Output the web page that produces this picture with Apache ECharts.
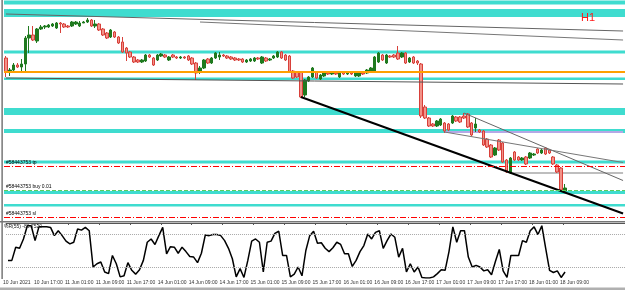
<!DOCTYPE html>
<html>
<head>
<meta charset="utf-8">
<script src="https://cdn.jsdelivr.net/npm/echarts@6/dist/echarts.min.js"></script>
<style>
  html, body { margin: 0; padding: 0; background: #fff; }
  #chart { width: 625px; height: 290px; }
</style>
</head>
<body>
<div id="chart"></div>
<script>
// time axis labels, one every 8 H1 bars
const tickLabels = ['10 Jun 2021', '10 Jun 17:00', '11 Jun 01:00', '11 Jun 09:00', '11 Jun 17:00',
  '14 Jun 01:00', '14 Jun 09:00', '14 Jun 17:00', '15 Jun 01:00', '15 Jun 09:00', '15 Jun 17:00',
  '16 Jun 01:00', '16 Jun 09:00', '16 Jun 17:00', '17 Jun 01:00', '17 Jun 09:00', '17 Jun 17:00',
  '18 Jun 01:00', '18 Jun 09:00'];

const opens = [1.2154,1.2126,1.2130,1.2140,1.2136,1.2142,1.2194,1.2200,1.2188,1.2212,
  1.2216,1.2216,1.2218,1.2214,1.2224,1.2222,1.2218,1.2218,1.2222,1.2218,
  1.2224,1.2226,1.2230,1.2218,1.2222,1.2212,1.2204,1.2196,1.2206,1.2196,
  1.2186,1.2174,1.2166,1.2156,1.2150,1.2146,1.2148,1.2160,1.2154,1.2150,
  1.2158,1.2160,1.2150,1.2160,1.2156,1.2154,1.2156,1.2158,1.2154,1.2144,
  1.2126,1.2134,1.2152,1.2144,1.2154,1.2156,1.2160,1.2158,1.2156,1.2154,
  1.2152,1.2152,1.2146,1.2148,1.2148,1.2154,1.2144,1.2154,1.2150,1.2154,
  1.2156,1.2166,1.2160,1.2158,1.2128,1.2126,1.2126,1.2080,1.2108,1.2116,
  1.2126,1.2112,1.2118,1.2124,1.2122,1.2124,1.2116,1.2126,1.2122,1.2124,
  1.2118,1.2118,1.2124,1.2124,1.2126,1.2126,1.2146,1.2160,1.2144,1.2158,
  1.2160,1.2164,1.2156,1.2164,1.2146,1.2156,1.2148,1.2142,1.2056,1.2034,
  1.2022,1.2018,1.2020,1.2024,1.2022,1.2024,1.2036,1.2036,1.2038,1.2042,
  1.2024,1.2014,1.2010,1.2008,1.1992,1.1980,1.1960,1.1990,1.1984,1.1950,
  1.1924,1.1966,1.1956,1.1950,1.1956,1.1954,1.1960,1.1972,1.1964,1.1974,
  1.1970,1.1956,1.1940,1.1934,1.1888];
const closes = [1.2126,1.2130,1.2140,1.2136,1.2142,1.2194,1.2200,1.2190,1.2212,1.2216,
  1.2218,1.2220,1.2222,1.2224,1.2222,1.2216,1.2216,1.2226,1.2226,1.2224,
  1.2226,1.2230,1.2218,1.2222,1.2210,1.2200,1.2194,1.2210,1.2196,1.2184,
  1.2166,1.2164,1.2156,1.2146,1.2146,1.2150,1.2160,1.2156,1.2140,1.2160,
  1.2162,1.2156,1.2156,1.2156,1.2154,1.2156,1.2154,1.2150,1.2142,1.2124,
  1.2134,1.2150,1.2144,1.2154,1.2164,1.2160,1.2158,1.2154,1.2152,1.2150,
  1.2150,1.2146,1.2150,1.2152,1.2154,1.2152,1.2156,1.2148,1.2152,1.2158,
  1.2166,1.2154,1.2150,1.2126,1.2114,1.2116,1.2076,1.2110,1.2116,1.2134,
  1.2114,1.2120,1.2124,1.2122,1.2124,1.2122,1.2126,1.2122,1.2124,1.2122,
  1.2124,1.2124,1.2122,1.2130,1.2134,1.2156,1.2164,1.2150,1.2160,1.2156,
  1.2156,1.2152,1.2164,1.2144,1.2154,1.2144,1.2144,1.2038,1.2034,1.2018,
  1.2018,1.2028,1.2032,1.2008,1.2010,1.2038,1.2028,1.2026,1.2034,1.2016,
  1.2000,1.2022,1.2006,1.1980,1.1976,1.1956,1.1974,1.1970,1.1946,1.1926,
  1.1954,1.1950,1.1950,1.1954,1.1942,1.1964,1.1962,1.1964,1.1970,1.1962,
  1.1964,1.1942,1.1926,1.1890,1.1894];
const lows = [1.2116,1.2118,1.2126,1.2134,1.2126,1.2126,1.2164,1.2188,1.2184,1.2210,
  1.2212,1.2214,1.2216,1.2212,1.2204,1.2214,1.2214,1.2216,1.2220,1.2216,
  1.2224,1.2224,1.2216,1.2214,1.2208,1.2198,1.2192,1.2194,1.2194,1.2182,
  1.2164,1.2148,1.2154,1.2144,1.2144,1.2144,1.2146,1.2154,1.2138,1.2148,
  1.2156,1.2154,1.2148,1.2154,1.2152,1.2152,1.2152,1.2148,1.2140,1.2110,
  1.2122,1.2132,1.2142,1.2142,1.2152,1.2150,1.2156,1.2152,1.2150,1.2148,
  1.2148,1.2144,1.2144,1.2146,1.2146,1.2150,1.2142,1.2146,1.2148,1.2152,
  1.2154,1.2152,1.2148,1.2124,1.2112,1.2114,1.2074,1.2076,1.2106,1.2114,
  1.2112,1.2110,1.2116,1.2120,1.2120,1.2120,1.2114,1.2120,1.2120,1.2120,
  1.2116,1.2116,1.2120,1.2122,1.2124,1.2124,1.2144,1.2148,1.2142,1.2154,
  1.2154,1.2150,1.2154,1.2142,1.2144,1.2142,1.2140,1.2034,1.2032,1.2016,
  1.2016,1.2016,1.2018,1.2004,1.2008,1.2022,1.2026,1.2024,1.2032,1.2014,
  1.1998,1.2006,1.2004,1.1978,1.1974,1.1954,1.1958,1.1968,1.1944,1.1924,
  1.1922,1.1948,1.1948,1.1948,1.1940,1.1952,1.1958,1.1962,1.1962,1.1960,
  1.1962,1.1940,1.1924,1.1888,1.1886];
const highs = [1.2158,1.2134,1.2144,1.2144,1.2152,1.2198,1.2218,1.2218,1.2214,1.2220,
  1.2220,1.2222,1.2224,1.2226,1.2226,1.2224,1.2220,1.2228,1.2228,1.2228,
  1.2228,1.2234,1.2232,1.2230,1.2224,1.2214,1.2206,1.2212,1.2208,1.2198,
  1.2196,1.2176,1.2168,1.2158,1.2152,1.2152,1.2162,1.2162,1.2156,1.2162,
  1.2164,1.2162,1.2158,1.2162,1.2158,1.2158,1.2158,1.2160,1.2156,1.2146,
  1.2138,1.2152,1.2154,1.2156,1.2166,1.2166,1.2162,1.2160,1.2158,1.2156,
  1.2154,1.2154,1.2152,1.2154,1.2156,1.2156,1.2158,1.2156,1.2154,1.2160,
  1.2168,1.2168,1.2162,1.2160,1.2130,1.2128,1.2128,1.2112,1.2118,1.2136,
  1.2128,1.2122,1.2126,1.2126,1.2126,1.2126,1.2128,1.2128,1.2126,1.2126,
  1.2126,1.2126,1.2126,1.2132,1.2136,1.2158,1.2166,1.2162,1.2162,1.2160,
  1.2162,1.2178,1.2166,1.2166,1.2156,1.2158,1.2150,1.2144,1.2060,1.2036,
  1.2024,1.2030,1.2034,1.2026,1.2024,1.2040,1.2038,1.2038,1.2044,1.2044,
  1.2026,1.2034,1.2012,1.2010,1.1994,1.1982,1.1976,1.1992,1.1986,1.1952,
  1.1956,1.1968,1.1958,1.1956,1.1958,1.1966,1.1964,1.1974,1.1972,1.1976,
  1.1972,1.1958,1.1942,1.1936,1.1902];

// Williams %R
const willR = [-68,-68,-44,-46,-29,-5,-5,-32,-7,-7,
  -7,-8,-23,-14,-23,-33,-38,-35,-11,-13,
  -8,-14,-80,-74,-71,-89,-92,-59,-74,-98,
  -96,-72,-86,-93,-85,-68,-35,-29,-39,-23,
  -8,-56,-43,-44,-55,-44,-52,-61,-62,-72,
  -55,-22,-23,-21,-21,-23,-32,-46,-65,-98,
  -83,-99,-68,-33,-29,-35,-89,-35,-33,-19,
  -15,-59,-59,-98,-93,-80,-96,-50,-23,-15,
  -37,-36,-46,-52,-45,-35,-39,-56,-56,-79,
  -68,-52,-41,-20,-29,-17,-14,-46,-32,-20,
  -26,-62,-46,-89,-74,-89,-80,-99,-100,-100,
  -98,-92,-85,-86,-52,-7,-35,-14,-14,-62,
  -80,-77,-80,-87,-85,-94,-70,-48,-87,-99,
  -59,-59,-59,-32,-35,-14,-7,-21,-5,-46,
  -86,-90,-87,-99,-89];
const willLevels = [-20, -80];

// supply / demand zones (upper, lower)
const zoneHigh = [1.2269, 1.2252, 1.2169, 1.2115, 1.2054, 1.2012, 1.1949, 1.1888, 1.1862];
const zoneLow  = [1.2261, 1.2236, 1.2163, 1.2110, 1.2040, 1.2004, 1.1943, 1.1882, 1.1857];

// order levels
const pivotLevel = 1.2127;
const tpLevel = 1.1937;
const buyLevel = 1.1890;
const slLevel = 1.1836;

// trend lines: [bar index, price]
const mainTrend = [[76, 1.2076], [159, 1.1843]];
const upperLineA = [[0, 1.2242], [159, 1.2208]];
const upperLineB = [[50, 1.2226], [159, 1.2190]];
const flatLine = [[0, 1.2114], [159, 1.2102]];
const channelTop = [[118, 1.2044], [159, 1.1909]];
const channelMid = [[113, 1.2006], [159, 1.1945]];
const violetLine = [[113, 1.2006], [159, 1.2006]];
const lowLine = [[130, 1.1924], [159, 1.1924]];

const nSlots = 160;
const cats = [];
for (let i = 0; i < nSlots; i++) cats.push(i);

const candles = opens.map((o, i) => [o, closes[i], lows[i], highs[i]]);

const showTick = (i) => i % 8 === 0 && i / 8 < tickLabels.length;

function trend(data, color, width, z) {
  return {
    type: 'line', data: data, symbol: 'none', silent: true, z: z || 4,
    lineStyle: { color: color, width: width }
  };
}

const chart = echarts.init(document.getElementById('chart'));
chart.setOption({
  animation: false,
  backgroundColor: '#fff',
  grid: [
    { left: 4, top: 0, width: 624, height: 221 },
    { left: 4, top: 223, width: 624, height: 55 }
  ],
  xAxis: [
    { type: 'category', gridIndex: 0, data: cats, boundaryGap: true,
      axisLine: { show: false }, axisTick: { show: false }, axisLabel: { show: false } },
    { type: 'category', gridIndex: 1, data: cats, boundaryGap: true,
      axisLine: { lineStyle: { color: '#555', width: 1 } },
      axisTick: { show: true, interval: (i) => showTick(i), length: 2, lineStyle: { color: '#555' } },
      axisLabel: { interval: (i) => showTick(i), formatter: (v, i) => tickLabels[i / 8] || '',
        fontSize: 5, color: '#333', align: 'left', margin: 2, padding: [0, 0, 0, -5],
        fontFamily: 'Liberation Sans' } }
  ],
  yAxis: [
    { type: 'value', gridIndex: 0, min: 1.1828, max: 1.2270, show: false },
    { type: 'value', gridIndex: 1, min: -100, max: 0, show: false }
  ],
  series: [
    {
      type: 'line', data: [], z: 1, silent: true,
      markArea: {
        silent: true, precision: 5,
        itemStyle: { color: '#3fdccf' },
        data: zoneHigh.map((h, i) => [{ yAxis: h }, { yAxis: zoneLow[i] }])
      }
    },
    {
      type: 'line', data: [], z: 2, silent: true,
      markLine: {
        silent: true, symbol: 'none', precision: 5,
        data: [
          { yAxis: pivotLevel, lineStyle: { color: '#ffa000', width: 2, type: 'solid' }, label: { show: false } },
          { yAxis: tpLevel, lineStyle: { color: '#ff0000', width: 1, type: [6, 2, 1, 2] },
            label: { show: true, formatter: '#58443753 tp' } },
          { yAxis: buyLevel, lineStyle: { color: '#5ccc5c', width: 1, type: [4, 2] },
            label: { show: true, formatter: '#58443753 buy 0.01' } },
          { yAxis: slLevel, lineStyle: { color: '#ff0000', width: 1, type: [6, 2, 1, 2] },
            label: { show: true, formatter: '#58443753 sl' } }
        ],
        label: { position: 'insideStartTop', fontSize: 5, color: '#000', distance: [2, 1],
          fontFamily: 'Liberation Sans' }
      }
    },
    trend(violetLine, '#b4a8e6', 2, 2),
    trend(lowLine, '#a8a8a8', 1.5, 2),
    {
      type: 'candlestick', data: candles, z: 3, barWidth: 3,
      itemStyle: {
        color: '#1f7a1f', borderColor: '#1f7a1f',
        color0: '#f29288', borderColor0: '#d8403a', borderWidth: 1
      }
    },
    trend(flatLine, '#555', 1),
    trend(upperLineA, '#666', 1),
    trend(upperLineB, '#777', 1),
    trend(channelTop, '#666', 1),
    trend(channelMid, '#777', 1),
    trend(mainTrend, '#000', 2),
    {
      type: 'line', xAxisIndex: 1, yAxisIndex: 1, data: willR, symbol: 'none', silent: true,
      lineStyle: { color: '#000', width: 1.5 },
      markLine: {
        silent: true, symbol: 'none', label: { show: false },
        lineStyle: { color: '#a8a8a8', type: 'dotted', width: 1 },
        data: willLevels.map(v => ({ yAxis: v }))
      }
    }
  ],
  graphic: [
    { type: 'rect', z: 100, shape: { x: 1.5, y: 0, width: 1.2, height: 279 }, style: { fill: '#555' }, silent: true },
    { type: 'rect', z: 100, shape: { x: 0, y: 221, width: 625, height: 1.5 }, style: { fill: '#777' }, silent: true },
    { type: 'rect', z: 100, shape: { x: 0, y: 287.5, width: 625, height: 2.5 }, style: { fill: '#b0b0b0' }, silent: true },
    { type: 'text', z: 100, left: 581, top: 12, silent: true,
      style: { text: 'H1', fontSize: 11, fill: '#ff1a1a', fontFamily: 'Liberation Sans' } },
    { type: 'text', z: 100, left: 4, top: 224, silent: true,
      style: { text: '%R(55) -86.7520', fontSize: 5, fill: '#222', fontFamily: 'Liberation Sans' } }
  ]
});
</script>
</body>
</html>
